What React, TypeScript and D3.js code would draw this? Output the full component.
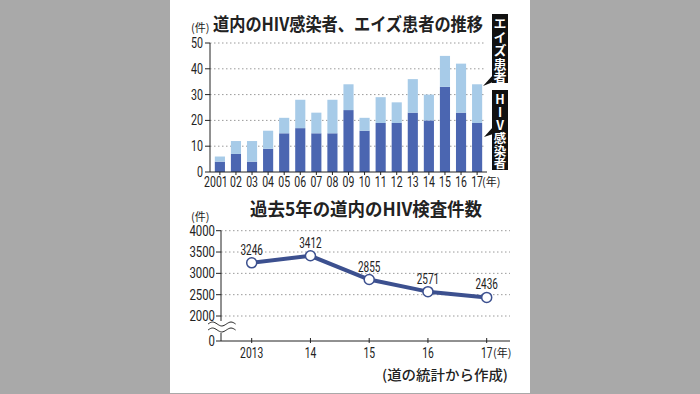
import React from 'react';
import * as d3 from 'd3';

// top chart: HIV infected (dark) + AIDS patients (light), stacked
const years = ['2001', '02', '03', '04', '05', '06', '07', '08', '09', '10', '11', '12', '13', '14', '15', '16', '17'];
const hivCases = [4, 7, 4, 9, 15, 17, 15, 15, 24, 16, 19, 19, 23, 20, 33, 23, 19];
const aidsCases = [2, 5, 8, 7, 6, 11, 8, 13, 10, 5, 10, 8, 13, 10, 12, 19, 15];
const topTicks = [0, 10, 20, 30, 40, 50];

// bottom chart: HIV tests, last 5 years
const testYears = ['2013', '14', '15', '16', '17'];
const testCounts = [3246, 3412, 2855, 2571, 2436];
const bottomTicks = [2000, 2500, 3000, 3500, 4000];

const JP = '"Noto Sans CJK JP", "Noto Sans", sans-serif';
const NUM = 'Roboto, "Noto Sans", sans-serif';
const INK = '#222';

// condensed digits: squeeze horizontally so the glyphs match the narrow print font
function Num({x, y, anchor = 'middle', size = 14, cw = 6, children}: any) {
    const sx = cw / (size * 0.562);
    return (
        <g transform={`translate(${x},${y}) scale(${sx},1)`}>
            <text textAnchor={anchor} fontSize={size} fontFamily={NUM} fill={INK}>{children}</text>
        </g>
    );
}

// black legend tag with vertical white text
function VLabel({x, y, w, h, text, size, spacing}: any) {
    return (
        <g>
            <rect x={x} y={y} width={w} height={h} fill="#111"/>
            <text x={x + w / 2} y={y + 3} fontSize={size} fontWeight={700} fontFamily={JP} fill="#fff"
                  letterSpacing={spacing}
                  style={{writingMode: 'vertical-rl', textOrientation: 'upright'} as any}>{text}</text>
        </g>
    );
}

function TopChart() {
    const x = d3.scaleBand().domain(years).range([210, 487]).paddingInner(0.37).paddingOuter(0.3);
    const y = d3.scaleLinear().domain([0, 50]).range([172, 43]);
    const data = years.map((yr, i) => ({yr, hiv: hivCases[i], aids: aidsCases[i]}));
    const stack = d3.stack<any>().keys(['hiv', 'aids'])(data);
    const colors = ['#4b66b1', '#a7cbe8'];

    return (
        <g>
            <text x={213} y={31} fontSize={18} fontWeight={700} fontFamily={JP} fill={INK}
                  textLength={270} lengthAdjust="spacingAndGlyphs">道内のHIV感染者、エイズ患者の推移</text>
            <text x={191} y={32} fontSize={11} fontFamily={JP} fill={INK}>(件)</text>

            {topTicks.map(t => (
                <g key={t}>
                    {t > 0 && <line x1={210} x2={484} y1={y(t)} y2={y(t)} stroke="#9a9a9a" strokeWidth={1} strokeDasharray="1.5,2.5"/>}
                    <line x1={205} x2={210} y1={y(t)} y2={y(t)} stroke={INK}/>
                    <Num x={203} y={y(t) + 5} anchor="end" size={14} cw={6}>{t}</Num>
                </g>
            ))}

            {stack.map((layer, li) => (
                <g key={li} fill={colors[li]}>
                    {layer.map((d: any, i: number) => (
                        <rect key={i} x={x(years[i])} y={y(d[1])} width={x.bandwidth()} height={y(d[0]) - y(d[1])}/>
                    ))}
                </g>
            ))}

            <line x1={210} x2={210} y1={y(50)} y2={y(0)} stroke={INK}/>
            <line x1={210} x2={487} y1={y(0)} y2={y(0)} stroke={INK}/>
            {years.map((yr, i) => (
                <g key={yr}>
                    <line x1={x(yr)! + x.bandwidth() / 2} x2={x(yr)! + x.bandwidth() / 2} y1={y(0)} y2={y(0) + 3} stroke={INK}/>
                    <Num x={x(yr)! + x.bandwidth() / 2 - (i === 0 ? 4 : 0)} y={187} size={14} cw={5.9}>{yr}</Num>
                </g>
            ))}
            <text x={482} y={186} fontSize={11} fontFamily={JP} fill={INK}>(年)</text>

            <VLabel x={492} y={14} w={16} h={69} text="エイズ患者" size={13} spacing={0.5}/>
            <polygon points="493,75 493,82 483,86" fill="#111"/>
            <VLabel x={492} y={90} w={16} h={80} text="HIV感染者" size={12.5} spacing={0.4}/>
            <polygon points="493,127 493,134 484,137" fill="#111"/>
        </g>
    );
}

function BottomChart() {
    const x = d3.scalePoint().domain(testYears).range([251.7, 486.7]);
    const y = d3.scaleLinear().domain([2000, 4000]).range([316, 230.7]);
    const zeroY = 341;
    const pts = testYears.map((yr, i) => [x(yr)!, y(testCounts[i])] as [number, number]);
    const path = d3.line()(pts);

    const wave = d3.line().curve(d3.curveBasis);
    const wavePts = (cy: number) => d3.range(0, 7).map(k => [208 + k * 4.6, cy + (k % 2 === 0 ? 0 : (k % 4 === 1 ? -3 : 3))] as [number, number]);

    return (
        <g>
            <text x={250} y={216} fontSize={18} fontWeight={700} fontFamily={JP} fill={INK}
                  textLength={232} lengthAdjust="spacingAndGlyphs">過去5年の道内のHIV検査件数</text>
            <text x={191} y={221} fontSize={11} fontFamily={JP} fill={INK}>(件)</text>

            {bottomTicks.map(t => (
                <g key={t}>
                    <line x1={221} x2={510} y1={y(t)} y2={y(t)} stroke="#9a9a9a" strokeWidth={1} strokeDasharray="1.5,2.5"/>
                    <line x1={216} x2={221} y1={y(t)} y2={y(t)} stroke={INK}/>
                    <Num x={215} y={y(t) + 5} anchor="end" size={14} cw={6.4}>{t}</Num>
                </g>
            ))}
            <line x1={216} x2={221} y1={zeroY} y2={zeroY} stroke={INK}/>
            <Num x={215} y={zeroY + 5} anchor="end" size={14} cw={6.4}>0</Num>

            <line x1={221} x2={221} y1={y(4000)} y2={zeroY} stroke={INK}/>
            <rect x={206} y={321} width={32} height={12} fill="#fff"/>
            <path d={wave(wavePts(324))!} fill="none" stroke={INK} strokeWidth={1}/>
            <path d={wave(wavePts(330))!} fill="none" stroke={INK} strokeWidth={1}/>

            <line x1={221} x2={510} y1={zeroY} y2={zeroY} stroke={INK}/>
            {testYears.map(yr => (
                <g key={yr}>
                    <line x1={x(yr)} x2={x(yr)} y1={zeroY - 3} y2={zeroY + 2} stroke={INK}/>
                    <Num x={x(yr)} y={358} size={14} cw={5.8}>{yr}</Num>
                </g>
            ))}
            <text x={493} y={357} fontSize={11} fontFamily={JP} fill={INK}>(年)</text>

            <path d={path!} fill="none" stroke="#3c508f" strokeWidth={4} strokeLinejoin="round"/>
            {pts.map((p, i) => (
                <g key={i}>
                    <circle cx={p[0]} cy={p[1]} r={5} fill="#fff" stroke="#3c508f" strokeWidth={1.5}/>
                    <Num x={p[0]} y={p[1] - 8} size={14} cw={5.6}>{testCounts[i]}</Num>
                </g>
            ))}

            <text x={382} y={380} fontSize={14} fontWeight={500} fontFamily={JP} fill={INK}
                  textLength={126} lengthAdjust="spacingAndGlyphs">(道の統計から作成)</text>
        </g>
    );
}

export default function App() {
    return (
        <svg width={700} height={394} style={{position: 'absolute', left: 0, top: 0}}>
            <rect width={700} height={394} fill="#a9a9a9"/>
            <rect x={170} y={0} width={360} height={393} fill="#fff"/>
            <TopChart/>
            <BottomChart/>
        </svg>
    );
}
